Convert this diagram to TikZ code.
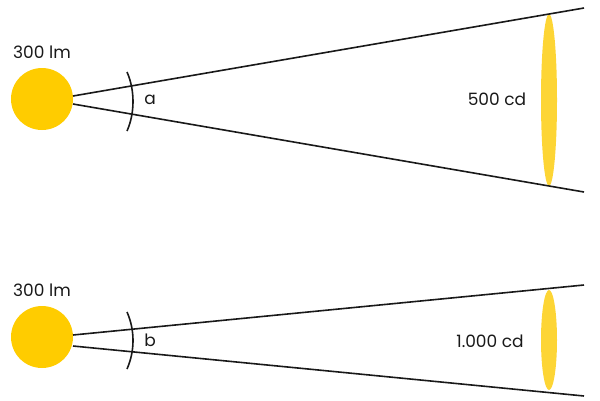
\documentclass[tikz,border=0pt]{standalone}
\usepackage{fontspec}
\setmainfont{Poppins}
\begin{document}
\begin{tikzpicture}[x=1pt,y=-1pt,
  sun/.style={circle,fill=sunc,inner sep=0pt,minimum size=62pt},
  beam/.style={line width=1.6pt,black!90},
  lbl/.style={font=\fontsize{17}{19}\selectfont,text=black!90,inner sep=0pt},
  spot/.style={ellipse,fill=spotc,inner sep=0pt}]
\definecolor{sunc}{HTML}{FFCC00}
\definecolor{spotc}{HTML}{FDD535}
\useasboundingbox (0,0) rectangle (600,400);
% top
\node[sun] (s1) at (42,99) {};
\coordinate (s1u) at (73,96);
\coordinate (s1d) at (73,104);
\coordinate (e1u) at (584,8);
\coordinate (e1d) at (584,192);
\fill[spotc] (549,100) ellipse [x radius=8, y radius=86];
\draw[beam] (s1u) -- (e1u);
\draw[beam] (s1d) -- (e1d);
\draw[beam] (127,72) .. controls (135,90) and (135,113) .. (127,131);
\node[lbl] (t1) at (42,52) {300 lm};
\node[lbl] (a) at (150,100) {a};
\node[lbl] (c1) at (497,99) {500 cd};
% bottom
\node[sun] (s2) at (42,337) {};
\coordinate (s2u) at (73,335);
\coordinate (s2d) at (73,346);
\coordinate (e2u) at (584,285);
\coordinate (e2d) at (584,396);
\fill[spotc] (549,340) ellipse [x radius=8, y radius=50];
\draw[beam] (s2u) -- (e2u);
\draw[beam] (s2d) -- (e2d);
\draw[beam] (127,312) .. controls (135,330) and (135,351) .. (127,369);
\node[lbl] (t2) at (42,290) {300 lm};
\node[lbl] (b) at (150,340) {b};
\node[lbl] (c2) at (490,341) {1.000 cd};
\end{tikzpicture}
\end{document}
